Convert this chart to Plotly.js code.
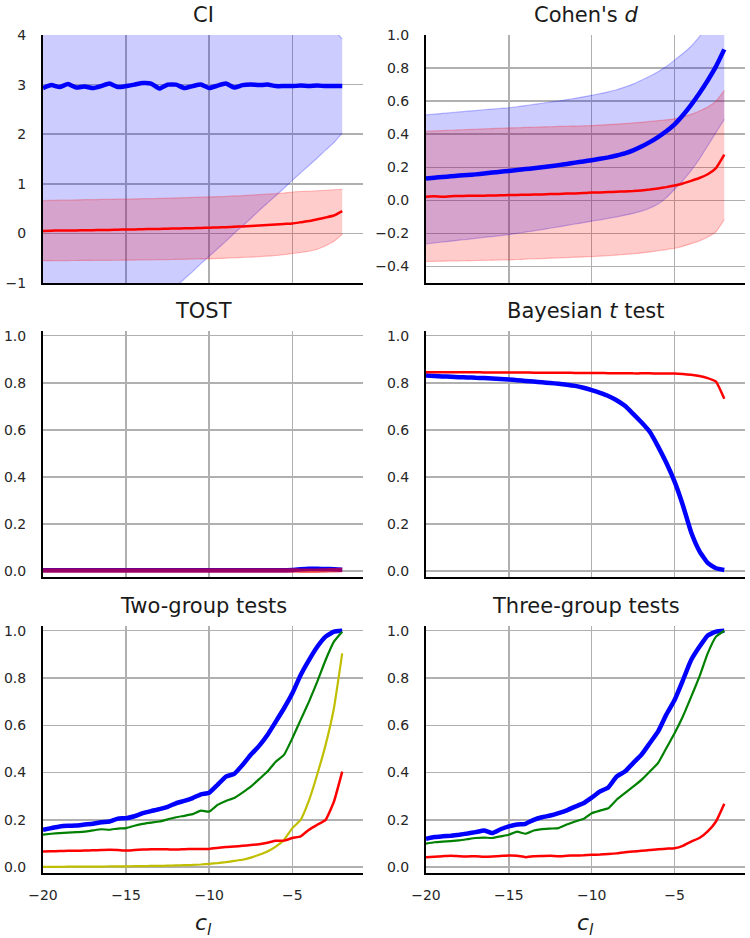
<!DOCTYPE html>
<html><head><meta charset="utf-8">
<script src="https://cdn.plot.ly/plotly-3.0.1.min.js"></script>
<style>html,body{margin:0;padding:0;background:#fff}#chart{width:750px;height:938px}</style>
</head><body><div id="chart"></div>
<script>
const xs = [-20,-19.5,-19,-18.5,-18,-17.5,-17,-16.5,-16,-15.5,-15,-14.5,-14,-13.5,-13,-12.5,-12,-11.5,-11,-10.5,-10,-9.5,-9,-8.5,-8,-7.5,-7,-6.5,-6,-5.5,-5,-4.5,-4,-3.5,-3,-2.5,-2];
const xTickVals = [-20,-15,-10,-5];
const xTickText = ['\u221220','\u221215','\u221210','\u22125'];
const titles = ['CI', "Cohen's <i>d</i>", 'TOST', 'Bayesian <i>t</i> test', 'Two-group tests', 'Three-group tests'];

// CI panel
const ciBlueMean = [2.93,2.99,2.95,3.01,2.94,2.96,2.93,2.97,3.02,2.95, 2.97,3.00,3.03,3.02,2.92,3.00,3.00,2.93,2.97,3.00, 2.93,2.98,3.02,2.94,2.99,3.00,2.99,3.00,2.97,2.97, 2.97,2.98,2.97,2.98,2.97,2.97,2.97];
const ciBlueLo = [-3.51,-3.36,-3.21,-3.05,-2.90,-2.75,-2.60,-2.44,-2.29,-2.14, -1.99,-1.83,-1.68,-1.53,-1.38,-1.22,-1.07,-0.92,-0.77,-0.61, -0.46,-0.31,-0.16,0.00,0.15,0.30,0.46,0.61,0.76,0.91, 1.07,1.22,1.37,1.52,1.68,1.83,2.02];
const ciBlueHi = [9.37,9.34,9.11,9.07,8.78,8.67,8.46,8.38,8.33,8.04, 7.93,7.83,7.74,7.57,7.22,7.22,7.07,6.78,6.71,6.61, 6.32,6.27,6.20,5.88,5.83,5.70,5.52,5.39,5.18,5.03, 4.87,4.74,4.57,4.44,4.26,4.11,3.92];
const ciRedMean = [0.050,0.055,0.057,0.060,0.060,0.063,0.065,0.068,0.070,0.075, 0.080,0.080,0.085,0.088,0.090,0.095,0.100,0.102,0.105,0.110, 0.115,0.120,0.125,0.135,0.140,0.150,0.160,0.170,0.180,0.190, 0.200,0.225,0.250,0.285,0.320,0.360,0.450];
const ciRedHi = [0.660,0.665,0.670,0.670,0.675,0.680,0.680,0.685,0.685,0.690, 0.690,0.695,0.700,0.700,0.705,0.710,0.715,0.720,0.725,0.730, 0.735,0.740,0.745,0.755,0.760,0.770,0.780,0.790,0.800,0.815, 0.835,0.845,0.850,0.860,0.870,0.880,0.890];
const ciRedLo = [-0.550,-0.550,-0.548,-0.547,-0.546,-0.545,-0.544,-0.543,-0.542,-0.541, -0.540,-0.538,-0.535,-0.533,-0.530,-0.527,-0.525,-0.522,-0.518,-0.514, -0.510,-0.505,-0.500,-0.492,-0.485,-0.477,-0.468,-0.458,-0.446,-0.430, -0.405,-0.385,-0.360,-0.320,-0.250,-0.160,-0.020];

// Cohen's d panel
const dBlueMean = [0.132,0.137,0.141,0.145,0.150,0.153,0.157,0.162,0.168,0.173, 0.178,0.183,0.189,0.194,0.200,0.206,0.213,0.220,0.228,0.235, 0.243,0.251,0.260,0.271,0.284,0.302,0.325,0.352,0.383,0.418, 0.460,0.515,0.578,0.648,0.725,0.810,0.913];
const dBlueLo = [-0.264,-0.258,-0.252,-0.247,-0.241,-0.236,-0.230,-0.224,-0.219,-0.213, -0.207,-0.200,-0.192,-0.185,-0.177,-0.169,-0.160,-0.152,-0.143,-0.135, -0.126,-0.118,-0.109,-0.100,-0.090,-0.079,-0.065,-0.047,-0.022,0.015, 0.067,0.120,0.180,0.250,0.330,0.410,0.490];
const dBlueHi = [0.517,0.521,0.526,0.530,0.535,0.539,0.543,0.548,0.552,0.556, 0.560,0.566,0.573,0.580,0.587,0.594,0.601,0.609,0.617,0.626, 0.635,0.645,0.656,0.669,0.685,0.703,0.726,0.750,0.778,0.810, 0.848,0.888,0.932,0.990,1.06,1.16,1.33];
const dRedMean = [0.022,0.024,0.022,0.025,0.026,0.027,0.027,0.028,0.029,0.030, 0.032,0.033,0.034,0.035,0.036,0.038,0.039,0.041,0.042,0.044, 0.047,0.048,0.050,0.052,0.054,0.056,0.060,0.065,0.072,0.080, 0.090,0.102,0.118,0.135,0.158,0.195,0.276];
const dRedHi = [0.418,0.420,0.422,0.424,0.426,0.428,0.430,0.432,0.434,0.436, 0.438,0.439,0.441,0.442,0.444,0.445,0.447,0.448,0.449,0.450, 0.452,0.455,0.458,0.461,0.464,0.468,0.472,0.477,0.482,0.487, 0.493,0.505,0.520,0.540,0.565,0.600,0.665];
const dRedLo = [-0.370,-0.369,-0.368,-0.367,-0.366,-0.365,-0.364,-0.363,-0.362,-0.361, -0.360,-0.358,-0.356,-0.354,-0.352,-0.350,-0.348,-0.346,-0.344,-0.342, -0.340,-0.337,-0.334,-0.331,-0.327,-0.323,-0.318,-0.312,-0.305,-0.298, -0.290,-0.278,-0.262,-0.245,-0.222,-0.190,-0.116];

// TOST panel
const tostBlue = [0.004,0.004,0.004,0.004,0.004,0.004,0.004,0.004,0.004,0.004, 0.004,0.004,0.004,0.004,0.004,0.004,0.004,0.004,0.004,0.004, 0.004,0.004,0.004,0.004,0.004,0.004,0.004,0.004,0.004,0.004, 0.005,0.008,0.010,0.010,0.009,0.008,0.006];
const tostRed = [0.003,0.003,0.003,0.003,0.003,0.003,0.003,0.003,0.003,0.003, 0.003,0.003,0.003,0.003,0.003,0.003,0.003,0.003,0.003,0.003, 0.003,0.003,0.003,0.003,0.003,0.003,0.003,0.003,0.003,0.003, 0.003,0.002,0.002,0.002,0.003,0.004,0.005];

// Bayesian t test panel
const bayesBlue = [0.831,0.829,0.827,0.826,0.824,0.823,0.821,0.820,0.818,0.816, 0.814,0.811,0.808,0.805,0.802,0.799,0.796,0.792,0.787,0.779, 0.769,0.757,0.744,0.726,0.702,0.668,0.632,0.592,0.530,0.460, 0.380,0.280,0.165,0.085,0.035,0.012,0.005];
const bayesRed = [0.845,0.845,0.845,0.845,0.845,0.845,0.845,0.844,0.844,0.844, 0.844,0.844,0.844,0.843,0.843,0.843,0.843,0.843,0.842,0.842, 0.842,0.842,0.841,0.841,0.841,0.840,0.840,0.840,0.839,0.839, 0.839,0.837,0.834,0.829,0.820,0.805,0.732];

// Two-group tests
const twoBlue = [0.158,0.165,0.172,0.175,0.176,0.180,0.183,0.190,0.193,0.205, 0.207,0.215,0.228,0.237,0.245,0.255,0.270,0.280,0.292,0.308, 0.315,0.348,0.383,0.394,0.432,0.475,0.513,0.559,0.615,0.672, 0.735,0.813,0.876,0.932,0.975,0.996,1.000];
const twoGreen = [0.137,0.141,0.144,0.146,0.148,0.150,0.155,0.160,0.158,0.163, 0.165,0.175,0.183,0.188,0.193,0.202,0.211,0.217,0.224,0.239, 0.235,0.263,0.280,0.292,0.315,0.340,0.372,0.404,0.446,0.475, 0.545,0.623,0.700,0.785,0.876,0.954,0.996];
const twoRed = [0.066,0.067,0.068,0.069,0.069,0.070,0.071,0.072,0.073,0.072, 0.070,0.072,0.074,0.075,0.076,0.075,0.074,0.076,0.077,0.077, 0.077,0.081,0.085,0.087,0.090,0.093,0.097,0.103,0.111,0.112, 0.123,0.130,0.158,0.179,0.200,0.277,0.404];
const twoYellow = [0.001,0.001,0.001,0.002,0.002,0.002,0.002,0.002,0.003,0.003, 0.003,0.004,0.004,0.005,0.005,0.006,0.007,0.008,0.009,0.011, 0.014,0.017,0.021,0.026,0.031,0.040,0.052,0.066,0.087,0.115, 0.165,0.200,0.282,0.393,0.517,0.672,0.904];

// Three-group tests
const threeBlue = [0.120,0.127,0.130,0.133,0.137,0.142,0.148,0.155,0.144,0.160, 0.172,0.180,0.183,0.200,0.211,0.218,0.228,0.240,0.256,0.270, 0.294,0.320,0.337,0.383,0.404,0.440,0.475,0.524,0.573,0.645, 0.707,0.790,0.876,0.932,0.980,0.996,1.000];
const threeGreen = [0.099,0.105,0.108,0.110,0.113,0.118,0.123,0.125,0.123,0.130, 0.137,0.150,0.141,0.155,0.161,0.163,0.165,0.180,0.193,0.204, 0.228,0.239,0.249,0.285,0.313,0.340,0.369,0.404,0.440,0.503, 0.566,0.637,0.720,0.806,0.904,0.975,1.000];
const threeRed = [0.042,0.044,0.046,0.048,0.046,0.045,0.046,0.044,0.045,0.047, 0.049,0.048,0.042,0.046,0.047,0.048,0.046,0.048,0.049,0.050, 0.052,0.053,0.055,0.058,0.063,0.066,0.069,0.072,0.076,0.078, 0.080,0.090,0.108,0.123,0.151,0.193,0.268];

const BLUE = '#0000ff', RED = '#ff0000', GREEN = '#008000', YEL = '#bfbf00';
const W = 750, H = 938;
// pixel boxes of each panel [left, right, top, bottom]
const boxes = [
  [43,363,35,283],[426,745,35,283],
  [43,363,331,577],[426,745,331,577],
  [43,363,626,873],[426,745,626,873]
];
const yRanges = [[-1,4],[-0.5,1.0],[-0.025,1.02],[-0.025,1.02],[-0.025,1.02],[-0.025,1.02]];
const yTicks = [[-1,0,1,2,3,4],[-0.4,-0.2,0,0.2,0.4,0.6,0.8,1.0],[0,0.2,0.4,0.6,0.8,1.0],[0,0.2,0.4,0.6,0.8,1.0],[0,0.2,0.4,0.6,0.8,1.0],[0,0.2,0.4,0.6,0.8,1.0]];
function fmt(v, dec){ const s = v.toFixed(dec); return s.replace('-', '\u2212'); }
const yTickDec = [0,1,1,1,1,1];

const traces = [];
function ax(i){ return i===0 ? '' : String(i+1); }
function line(i, y, color, width, extra){
  traces.push(Object.assign({type:'scatter', mode:'lines', x: xs, y: y, xaxis:'x'+ax(i), yaxis:'y'+ax(i),
    line:{color:color, width:width, shape:'spline', smoothing:0.4}, hoverinfo:'skip', showlegend:false}, extra||{}));
}
function band(i, lo, hi, rgb){
  line(i, lo, 'rgba('+rgb+',0.25)', 1.2);
  line(i, hi, 'rgba('+rgb+',0.25)', 1.2, {fill:'tonexty', fillcolor:'rgba('+rgb+',0.2)'});
}
// CI
band(0, ciBlueLo, ciBlueHi, '0,0,255');
band(0, ciRedLo, ciRedHi, '255,0,0');
line(0, ciBlueMean, BLUE, 4.5);
line(0, ciRedMean, RED, 2.5);
// Cohen's d
band(1, dBlueLo, dBlueHi, '0,0,255');
band(1, dRedLo, dRedHi, '255,0,0');
line(1, dBlueMean, BLUE, 4.5);
line(1, dRedMean, RED, 2.5);
// TOST
line(2, tostBlue, BLUE, 4.5);
line(2, tostRed, RED, 4.5, {opacity:0.6});
// Bayes
line(3, bayesBlue, BLUE, 4.5);
line(3, bayesRed, RED, 2.5);
// Two-group
line(4, twoBlue, BLUE, 4.5);
line(4, twoGreen, GREEN, 2.2);
line(4, twoYellow, YEL, 2.2);
line(4, twoRed, RED, 2.5);
// Three-group
line(5, threeBlue, BLUE, 4.5);
line(5, threeGreen, GREEN, 2.2);
line(5, threeRed, RED, 2.5);

const FONT = 'DejaVu Sans, sans-serif';
const layout = {
  width: W, height: H, margin:{l:0,r:0,t:0,b:0},
  paper_bgcolor:'#fff', plot_bgcolor:'#fff', showlegend:false,
  font:{family:FONT, size:14, color:'#262626'},
  annotations: []
};
boxes.forEach((b,i)=>{
  const [l,r,t,bt] = b;
  const bottomRow = i >= 4;
  layout['xaxis'+ax(i)] = {
    domain:[l/W, r/W], anchor:'y'+ax(i), range:[-20,-0.75],
    tickmode:'array', tickvals: xTickVals, ticktext: xTickText,
    showticklabels: bottomRow, ticks:'', ticklabelstandoff: 8,
    showgrid:true, gridcolor:'#b0b0b0', gridwidth:1.5,
    showline:true, linecolor:'#000', linewidth:2, zeroline:false,
    tickfont:{family:FONT, size:14, color:'#262626'}
  };
  layout['yaxis'+ax(i)] = {
    domain:[1-bt/H, 1-t/H], anchor:'x'+ax(i), range: yRanges[i],
    tickmode:'array', tickvals: yTicks[i], ticktext: yTicks[i].map(v=>fmt(v, yTickDec[i])),
    ticks:'', ticklabelstandoff: 12,
    showgrid:true, gridcolor:'#b0b0b0', gridwidth:1.5,
    showline:true, linecolor:'#000', linewidth:2, zeroline:false,
    tickfont:{family:FONT, size:14, color:'#262626'}
  };
  layout.annotations.push({
    xref:'paper', yref:'paper', x:(l+r)/2/W, y:1-(t-20)/H, xanchor:'center', yanchor:'middle',
    text: titles[i], showarrow:false, borderpad:0, font:{family:FONT, size:21, color:'#1a1a1a'}
  });
  if (bottomRow){
    layout.annotations.push({
      xref:'paper', yref:'paper', x:(l+r)/2/W, y:1-924/H, xanchor:'center', yanchor:'middle',
      text:'<i>c<sub>l</sub></i>', showarrow:false, borderpad:0, font:{family:FONT, size:22, color:'#1a1a1a'}
    });
  }
});
Plotly.newPlot('chart', traces, layout, {displayModeBar:false, staticPlot:true});
</script></body></html>
